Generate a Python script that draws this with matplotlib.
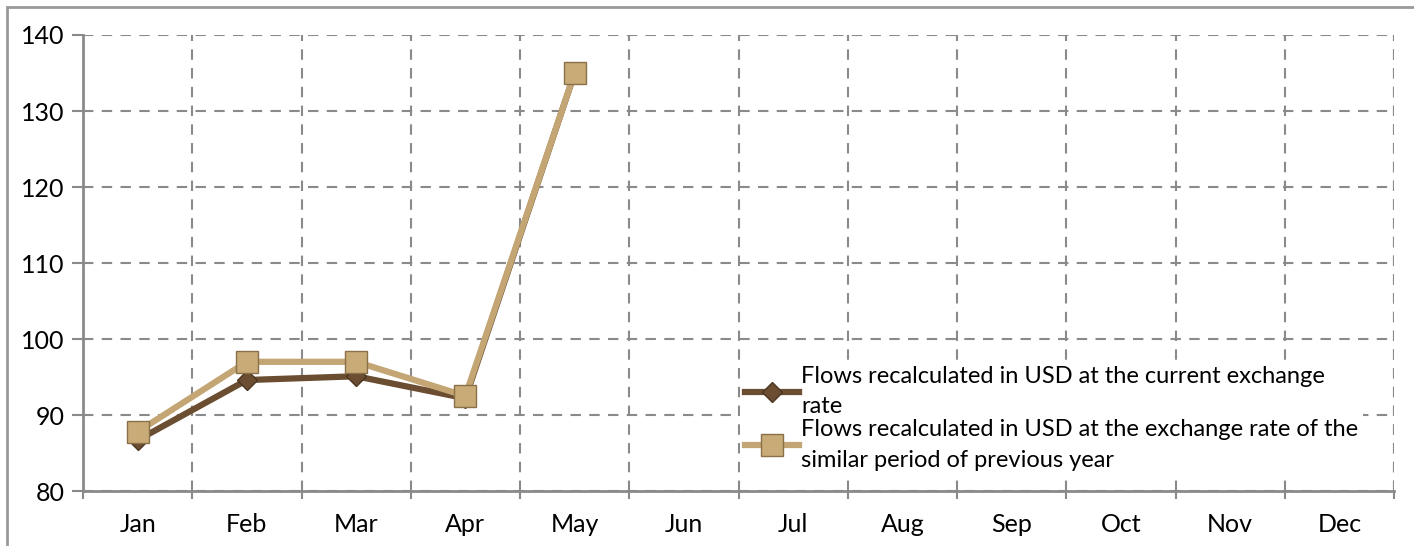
import matplotlib.pyplot as plt
from matplotlib.patches import Rectangle
import numpy as np

plt.rcParams['font.family'] = ['Lato', 'DejaVu Sans']

months = ['Jan', 'Feb', 'Mar', 'Apr', 'May', 'Jun', 'Jul', 'Aug', 'Sep', 'Oct', 'Nov', 'Dec']
current_rate = [86.7, 94.6, 95.1, 92.2, 135.0]
prev_year_rate = [87.8, 97.0, 97.0, 92.5, 135.0]
label_current = 'Flows recalculated in USD at the current exchange\nrate'
label_prev = 'Flows recalculated in USD at the exchange rate of the\nsimilar period of previous year'

dark = '#6b4e31'
light = '#c4a574'
grid_c = '#8a8a8a'

fig = plt.figure(figsize=(14.14, 5.46), dpi=100)
ax = fig.add_axes([0.0587, 0.1007, 0.9272, 0.8352])

x = np.arange(len(current_rate))
ax.plot(x, current_rate, color=dark, lw=4.5, marker='D', ms=10,
        mfc=dark, mec='#4a3520', mew=1, label=label_current, zorder=3)
ax.plot(x, prev_year_rate, color=light, lw=4.5, marker='s', ms=16,
        mfc='#c9ab78', mec='#8a7048', mew=1, label=label_prev, zorder=4)

ax.set_xlim(-0.5, len(months) - 0.5)
ax.set_ylim(80, 140)
ax.set_yticks(np.arange(80, 141, 10))
ax.set_xticks(np.arange(len(months)))
ax.set_xticklabels(months)
ax.set_xticks(np.arange(len(months) + 1) - 0.5, minor=True)

ax.tick_params(axis='x', which='major', length=0, labelsize=18, pad=16)
ax.tick_params(axis='x', which='minor', length=6, color=grid_c, width=1.5)
ax.tick_params(axis='y', length=8, color=grid_c, width=1.5, labelsize=18, pad=5)

ax.grid(True, axis='y', which='major', ls=(0, (5, 4)), color=grid_c, lw=1.5)
ax.grid(True, axis='x', which='minor', ls=(0, (5, 4)), color=grid_c, lw=1.5)

for side in ['left', 'bottom']:
    ax.spines[side].set_color(grid_c)
    ax.spines[side].set_linewidth(2)
for side in ['top', 'right']:
    ax.spines[side].set_visible(False)
ax.axvline(len(months) - 0.5, ls=(0, (5, 4)), color=grid_c, lw=1.5)

leg = ax.legend(loc='upper left', bbox_to_anchor=(740 / 1414, 1 - 361 / 546),
                bbox_transform=fig.transFigure, frameon=True, fontsize=17,
                handlelength=2.3, handletextpad=0.1, labelspacing=0.1,
                borderaxespad=0, borderpad=0.2, fancybox=False)
for t in leg.get_texts():
    t.set_linespacing(1.55)
leg.get_frame().set_facecolor('white')
leg.get_frame().set_edgecolor('none')
leg.get_frame().set_alpha(1)
leg.set_zorder(5)

fig.patches.append(Rectangle((7 / 1414, -0.01), 1.02, 1 - 7 / 546 + 0.01,
                             transform=fig.transFigure, fill=False,
                             edgecolor='#999999', lw=2))

fig.savefig('out.png', dpi=100)
